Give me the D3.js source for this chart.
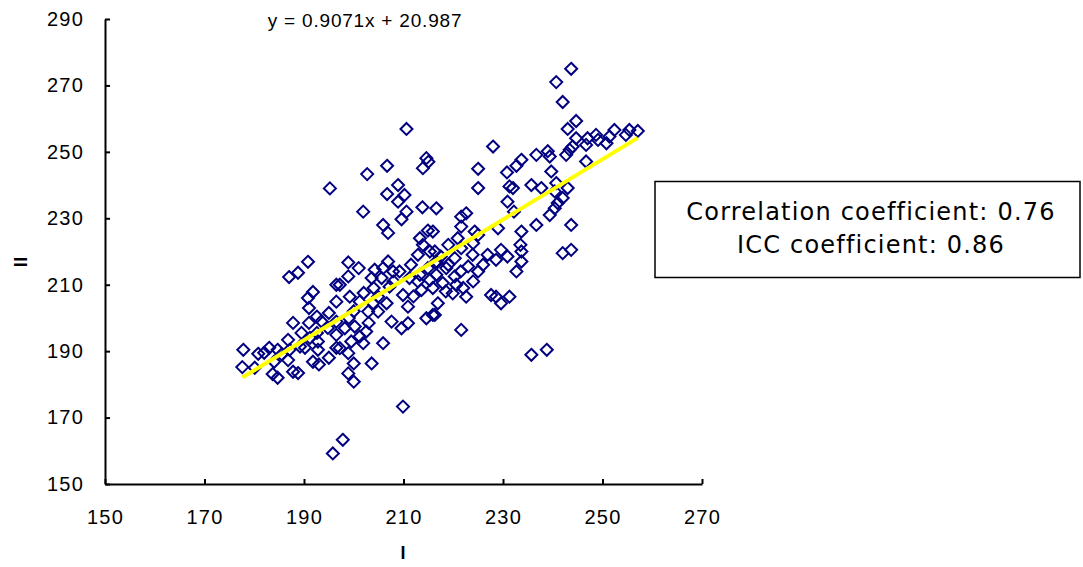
<!DOCTYPE html>
<html><head><meta charset="utf-8">
<script src="https://cdn.jsdelivr.net/npm/d3@7"></script>
<style>body{margin:0;background:#fff}svg{display:block}</style>
</head><body>
<svg id="chart" width="1083" height="567"></svg>
<script>
// ---- data ----
const xTicks = [150,170,190,210,230,250,270];
const yTicks = [150,170,190,210,230,250,270,290];
const slope = 0.9071, intercept = 20.987;
const equationLabel = "y = 0.9071x + 20.987";
const statLines = ["Correlation coefficient: 0.76", "ICC coefficient: 0.86"];
const xTitle = "Ⅰ", yTitle = "Ⅱ";
const seriesI = [
187,188.8,191.8,190.8,196.5,196.5,191,192.6,191,187.8,177.8,177.6,180.8,182,180.1,184.7,186.8,187.1,184,186.8,184.7,183.7,187.8,188.8,190.2,191.8,192.8,192.8,192.6,191.2,189.2,194.8,196.5,196.5,190.8,
214.6,213.9,215,206.7,202.7,195.2,208.9,206.7,210.2,208.9,210.6,209.6,201.9,205.9,206.9,213.8,216.6,214.9,213.3,213.9,212.9,215.3,216.6,214.9,213.3,215.3,213.6,215.9,198.9,201,198.9,197.2,199.2,201.2,204.2,205.9,206.9,207.9,205.6,203.6,209.2,207.2,209.9,204.9,206.6,210.9,203.9,211.2,212.9,216.6,210.6,
202.9,204.9,207.6,209.6,210.9,214.6,215.9,196.5,198.2,200.2,202.5,201.2,199.5,197.2,198.9,201.9,205.9,200,203.6,198.9,200,209.9,197.8,195.8,
228,236.7,233.7,232.7,230.8,225,225,231.3,232,235.7,230.9,232.2,222.6,221.6,221.6,224.3,225,229,233.7,236.7,220.9,215.9,221.6,216.3,223.9,226.9,229.6,230.9,233.7,233.7,232.7,225,223,220.3,218.6,216.6,220.3,217.9,220.6,222.6,219.9,216.9,227.6,229.6,231.3,228.6,216.3,221.6,
243.7,240.7,242,244.7,243,244.7,247,248.7,252.4,255.4,257.1,251.4,250.8,249.1,246.7,244,243.4,254.7,239,239.4,242.7,246.7,239.7,237.7,240.7,243,240.4,242,241,240.4,239.4,243.7,243.7,242,
228.6,235.7,238.8,233.5,
219,221.5,222,218.5,224,226,219,224,217.5,211.5,212,208,204,202,200,199,203,193.5,195,195,193,189.5,185.5,183
];
const seriesII = [
212.3,213.6,207.8,206,210,204.9,203,200.4,198.5,198.5,190.4,185.2,189.2,189.5,185,190.4,193.4,190.4,186.8,187.3,182,183.1,183.8,183.4,191,186.8,190.4,192.9,195.5,194,191.4,197,194.9,191,216.9,
248.1,245.1,247,245.8,243.3,239,240,237.3,237,235,232,229.7,232,228,225.6,233.3,233,226.3,224,222,219,220,217,215,213,211.4,208.4,209,216.7,215,212.5,210,206.4,204.9,214.5,215,217,214,212,212,214,209.4,206.9,206.4,204.4,203.4,204.4,212,211,213,256.9,
201.9,201.9,198.9,196.9,198.4,199.9,200.9,198.9,196.9,197.4,195.9,194.4,192.9,190.9,189.4,192.4,192.4,186.3,186.3,183.3,180.8,173.3,163.3,159.2,
251.6,249.1,247.6,245.8,243.8,244.9,239.1,239.6,239.1,240,235,232,231.5,230.5,227.5,226,225,227,226,228,224,226,221,220,219,219,220.5,218.5,220,217,214,214,215.5,218,215,216.5,212.5,210.5,210,206.4,207.4,204.4,206.9,204.4,206.4,206.4,200.9,196.4,
275,271,265,259.3,256.9,254.1,254.1,255.1,256.6,256.6,256.3,254.6,252.6,253.6,252.1,251.6,250.6,255.1,250.2,248.6,249.1,247.1,244.1,239.1,240.6,239.1,238.1,236.1,234.6,233,231,228,220.5,219.5,
217.5,188.9,190.4,222,
216,214,209,208,211,216,222,222.5,218.5,216,206.5,211,209,207.5,202,200,198.5,199,201.5,188,186,195.5,189,191
];
const points = seriesI.map((v,i)=>({x:v,y:seriesII[i]}));

// ---- layout ----
const svg = d3.select("#chart");
const x = d3.scaleLinear().domain([150,270]).range([105,702]);
const y = d3.scaleLinear().domain([150,290]).range([484,19]);
const tickFont = "'Liberation Sans', Arial, sans-serif";

// points
const diamond = {draw(ctx,size){const r=Math.sqrt(size)/2;ctx.moveTo(0,-r);ctx.lineTo(r,0);ctx.lineTo(0,r);ctx.lineTo(-r,0);ctx.closePath();}};
svg.append("g").selectAll("path").data(points).join("path")
  .attr("d", d3.symbol().type(diamond).size(144))
  .attr("transform", d=>`translate(${x(d.x)},${y(d.y)})`)
  .attr("fill","none").attr("stroke","#000080").attr("stroke-width",2);

// trend line
const xr = d3.extent(seriesI);
svg.append("line")
  .attr("x1",x(xr[0])).attr("y1",y(slope*xr[0]+intercept))
  .attr("x2",x(xr[1])).attr("y2",y(slope*xr[1]+intercept))
  .attr("stroke","#ffff00").attr("stroke-width",4);

// axes
const gx = svg.append("g").attr("transform","translate(0,484)")
  .call(d3.axisBottom(x).tickValues(xTicks).tickFormat(d3.format("d")).tickSizeInner(-5).tickSizeOuter(0).tickPadding(26));
const gy = svg.append("g").attr("transform","translate(105,0)")
  .call(d3.axisLeft(y).tickValues(yTicks).tickFormat(d3.format("d")).tickSizeInner(-5).tickSizeOuter(0).tickPadding(21));
[gx,gy].forEach(g=>{
  g.select(".domain").attr("stroke","#000").attr("stroke-width",2);
  g.selectAll(".tick line").attr("stroke","#000").attr("stroke-width",2);
  g.selectAll(".tick text").attr("fill","#000").style("font-family",tickFont).style("font-size","20px").style("letter-spacing","1.2px");
});

// equation
svg.append("text").attr("x",365).attr("y",27).attr("text-anchor","middle")
  .style("font-family",tickFont).style("font-size","19px").style("letter-spacing","0.8px").text(equationLabel);

// axis titles
svg.append("text").attr("x",403).attr("y",559).attr("text-anchor","middle")
  .style("font-family","'Noto Sans CJK JP', sans-serif").style("font-size","17px").style("font-weight","bold").text(xTitle);
svg.append("text").attr("transform","translate(27,262) rotate(-90)").attr("text-anchor","middle")
  .style("font-family","'Noto Sans CJK JP', sans-serif").style("font-size","17px").style("font-weight","bold").text(yTitle);

// stats box
svg.append("rect").attr("x",655).attr("y",181.5).attr("width",425).attr("height",96)
  .attr("fill","#fff").attr("stroke","#000").attr("stroke-width",1.5);
svg.selectAll(".stat").data(statLines).join("text").attr("class","stat")
  .attr("x",871).attr("y",(d,i)=>220+i*33).attr("text-anchor","middle")
  .style("font-family","'DejaVu Sans', Verdana, sans-serif").style("font-size","24px").style("letter-spacing","1.2px").text(d=>d);
</script>
</body></html>
